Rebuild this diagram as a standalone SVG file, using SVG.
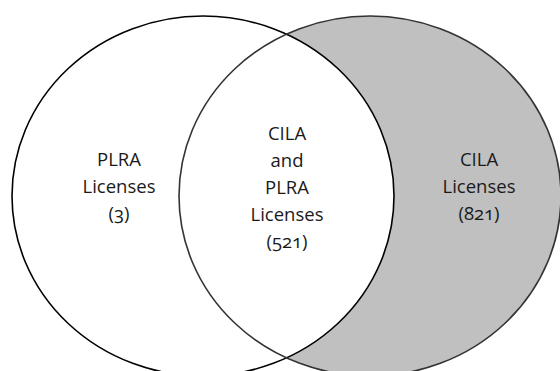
<svg xmlns="http://www.w3.org/2000/svg" width="560" height="371" viewBox="0 0 560 371">
<style>
text{font-family:"Open Sans","Noto Sans","Liberation Sans",sans-serif;font-size:18.5px;fill:#1a1a1a;text-anchor:middle;font-variant-numeric:oldstyle-nums;font-feature-settings:"onum" 1;}
.ring{fill:none;stroke-width:1.6;}
</style>
<rect width="560" height="371" fill="#ffffff"/>
<g id="cila-fill"><ellipse cx="370" cy="196" rx="191" ry="180" fill="#c0c0c0"/></g>
<g id="plra">
<ellipse cx="203" cy="196" rx="191" ry="180" fill="#ffffff" stroke="#000000" stroke-width="1.6"/>
<text x="119" y="166">PLRA</text>
<text x="119" y="193">Licenses</text>
<text x="119" y="220">(3)</text>
</g>
<g id="cila">
<ellipse class="ring" cx="370" cy="196" rx="191" ry="180" stroke="#333333"/>
<text x="479" y="166">CILA</text>
<text x="479" y="193">Licenses</text>
<text x="479" y="220">(821)</text>
</g>
<g id="both">
<text x="287" y="140">CILA</text>
<text x="287" y="167">and</text>
<text x="287" y="194">PLRA</text>
<text x="287" y="221">Licenses</text>
<text x="287" y="248">(521)</text>
</g>
<g id="connectors"></g>
</svg>
